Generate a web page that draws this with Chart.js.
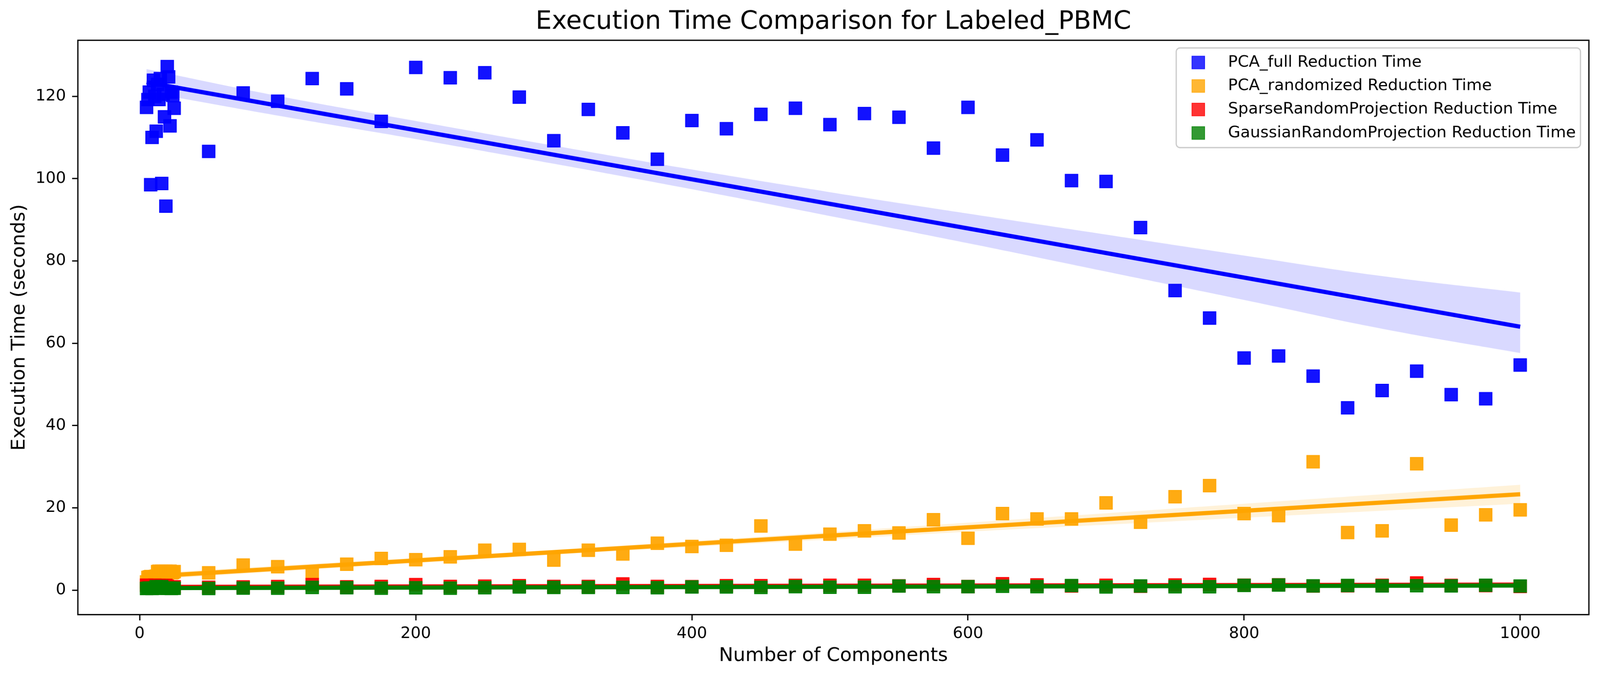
<!DOCTYPE html>
<html>
<head>
<meta charset="utf-8">
<script src="https://cdn.jsdelivr.net/npm/chart.js@4.4.1/dist/chart.umd.min.js"></script>
<style>
html,body{margin:0;padding:0;background:#ffffff;overflow:hidden;width:100%;height:100%;}
#c{display:block;width:100vw;height:calc(100vw * 1767 / 4172);}
</style>
</head>
<body>
<canvas id="c" width="4172" height="1767" style="display:block;width:100vw;height:calc(100vw * 1767 / 4172);"></canvas>
<script>
// ---------------- data ----------------
const components = [5,6,7,8,9,10,11,12,13,14,15,16,17,18,19,20,21,22,23,24,25,
  50,75,100,125,150,175,200,225,250,275,300,325,350,375,400,425,450,475,500,
  525,550,575,600,625,650,675,700,725,750,775,800,825,850,875,900,925,950,975,1000];

const pcaFullTime = [117.3,119.2,121.0,98.5,110.0,123.9,120.0,111.5,122.9,119.2,124.3,98.8,120.5,115.0,93.3,127.2,124.7,112.8,121.0,120.2,117.1,
  106.6,120.8,118.8,124.3,121.8,113.9,127.0,124.5,125.7,119.8,109.2,116.8,111.1,104.7,114.1,112.1,115.6,117.1,113.1,
  115.8,114.9,107.4,117.3,105.7,109.4,99.5,99.3,88.1,72.8,66.1,56.4,56.9,52.0,44.3,48.5,53.2,47.5,46.5,54.7];

const pcaRandTime = [2.0,3.1,3.2,3.3,3.2,3.1,3.3,3.4,4.5,4.6,4.4,4.6,4.5,4.3,4.6,4.5,4.4,4.6,4.2,4.3,4.5,
  4.2,6.1,5.7,4.3,6.3,7.7,7.4,8.1,9.7,9.9,7.3,9.7,8.8,11.4,10.6,10.9,15.6,11.2,13.6,
  14.4,13.9,17.1,12.6,18.6,17.3,17.3,21.2,16.5,22.7,25.4,18.6,18.1,31.2,14.0,14.4,30.7,15.8,18.3,19.5];

const sparseTime = [1.2,1.15,1.1,1.15,1.0,1.1,1.2,1.0,1.1,1.15,1.05,0.95,1.1,1.0,1.15,0.95,0.8,0.75,0.8,0.75,0.8,
  0.7,0.78,0.87,1.34,0.8,0.9,1.34,0.9,0.98,1.09,0.9,0.9,1.5,0.9,0.85,1.09,1.09,1.15,1.18,
  1.18,1.05,1.37,0.87,1.55,1.27,1.0,1.18,0.95,1.24,1.39,1.2,1.3,1.0,1.05,1.18,1.74,1.15,1.1,0.9];

const gaussianTime = [0.4,0.45,0.5,0.45,0.4,0.5,0.55,0.85,0.6,0.5,0.55,0.85,0.5,0.45,0.5,0.45,0.5,0.45,0.4,0.5,0.45,
  0.4,0.5,0.48,0.67,0.6,0.48,0.57,0.48,0.6,0.77,0.67,0.67,0.67,0.59,0.77,0.77,0.67,0.85,0.71,
  0.71,1.0,0.85,0.85,0.95,0.85,1.12,0.77,1.02,0.82,0.82,1.15,1.24,1.04,1.13,1.04,1.07,1.04,1.19,1.0];

// regression lines (end points) and confidence bands
const fitX = [5, 1000];
const pcaFullFit = [123.4, 64.0];
const pcaRandFit = [3.3, 23.3];
const sparseFit = [0.77, 1.33];
const gaussianFit = [0.5, 1.14];

const bandX = [5,100,200,300,400,500,600,700,800,900,1000];
const pcaFullUpper = [126.6,120.1,114.0,108.0,102.2,96.7,91.5,86.4,81.3,76.3,72.3];
const pcaFullLower = [121.0,115.3,109.6,103.6,97.4,90.9,84.3,77.4,70.5,63.5,57.6];
const pcaRandUpper = [4.1,5.9,7.8,9.8,11.9,14.1,16.4,18.7,21.0,23.3,25.6];
const pcaRandLower = [2.5,4.5,6.6,8.6,10.5,12.3,14.2,15.9,17.6,19.3,21.0];

const xTicks = [0,200,400,600,800,1000];
const yTicks = [0,20,40,60,80,100,120];

const seriesNames = ['PCA_full Reduction Time','PCA_randomized Reduction Time',
  'SparseRandomProjection Reduction Time','GaussianRandomProjection Reduction Time'];

// ---------------- styling ----------------
const FONT = "'DejaVu Sans', 'Liberation Sans', sans-serif";
const cols = {
  blue:  [0,0,255],
  orange:[255,165,0],
  red:   [255,0,0],
  green: [0,128,0]
};
const rgba = (c,a) => `rgba(${c[0]},${c[1]},${c[2]},${a})`;
const pts = (xs, ys) => xs.map((x,i) => ({x:x, y:ys[i]}));

function scatterDs(label, ys, c, order){
  return {
    label: label, data: pts(components, ys), showLine: false,
    pointStyle: 'rect', pointRadius: 23.3, pointHoverRadius: 23.3,
    pointBackgroundColor: rgba(c,0.93), pointBorderColor: rgba(c,1), pointBorderWidth: 2,
    order: order
  };
}
function lineDs(ys, c, order){
  return {
    label: '_fit', data: pts(fitX, ys), showLine: true, borderColor: rgba(c,1),
    borderWidth: 11, pointRadius: 0, fill: false, tension: 0, order: order, borderCapStyle: 'butt'
  };
}
function bandUpper(ys, order){
  return { label: '_band', data: pts(bandX, ys), showLine: true, borderWidth: 0,
    borderColor: 'rgba(0,0,0,0)', pointRadius: 0, fill: false, tension: 0.4, order: order };
}
function bandLower(ys, c, upperIndex, order){
  return { label: '_band', data: pts(bandX, ys), showLine: true, borderWidth: 0,
    borderColor: 'rgba(0,0,0,0)', pointRadius: 0, tension: 0.4,
    fill: {target: upperIndex}, backgroundColor: rgba(c,0.15), order: order };
}

const datasets = [
  scatterDs(seriesNames[0], pcaFullTime, cols.blue, 100),   // 0
  lineDs(pcaFullFit, cols.blue, 99),                         // 1
  bandUpper(pcaFullUpper, 98),                               // 2
  bandLower(pcaFullLower, cols.blue, 2, 97),                 // 3
  scatterDs(seriesNames[1], pcaRandTime, cols.orange, 90),   // 4
  lineDs(pcaRandFit, cols.orange, 89),                       // 5
  bandUpper(pcaRandUpper, 88),                               // 6
  bandLower(pcaRandLower, cols.orange, 6, 87),               // 7
  scatterDs(seriesNames[2], sparseTime, cols.red, 80),       // 8
  lineDs(sparseFit, cols.red, 79),                           // 9
  scatterDs(seriesNames[3], gaussianTime, cols.green, 70),   // 10
  lineDs(gaussianFit, cols.green, 69)                        // 11
];

// frame (all four spines)
const framePlugin = {
  id: 'frame',
  afterDatasetsDraw(chart){
    const a = chart.chartArea, ctx = chart.ctx;
    ctx.save();
    ctx.strokeStyle = '#000'; ctx.lineWidth = 3.3;
    ctx.strokeRect(a.left, a.top, a.right - a.left, a.bottom - a.top);
    ctx.restore();
  }
};

// matplotlib-like legend inside upper right
const legendPlugin = {
  id: 'mplLegend',
  afterDraw(chart){
    const ctx = chart.ctx;
    const box = {x: 3067, y: 125, w: 1054, h: 260, r: 10};
    ctx.save();
    ctx.beginPath();
    ctx.roundRect(box.x, box.y, box.w, box.h, box.r);
    ctx.fillStyle = 'rgba(255,255,255,0.8)';
    ctx.fill();
    ctx.strokeStyle = '#cccccc'; ctx.lineWidth = 3.3;
    ctx.stroke();
    const colorList = [cols.blue, cols.orange, cols.red, cols.green];
    ctx.font = `41.7px ${FONT}`;
    ctx.textBaseline = 'middle';
    ctx.textAlign = 'left';
    for (let i = 0; i < seriesNames.length; i++){
      const cy = 163 + i * 61.3;
      ctx.fillStyle = rgba(colorList[i], 0.8);
      ctx.fillRect(3108, cy - 16.5, 33, 33);
      ctx.strokeStyle = rgba(colorList[i], 0.8); ctx.lineWidth = 2;
      ctx.strokeRect(3108, cy - 16.5, 33, 33);
      ctx.fillStyle = '#000';
      ctx.fillText(seriesNames[i], 3202, cy);
    }
    ctx.restore();
  }
};

new Chart(document.getElementById('c'), {
  type: 'line',
  data: { datasets: datasets },
  options: {
    responsive: false,
    devicePixelRatio: 1,
    animation: false,
    events: [],
    layout: { padding: { left: 0, right: 29, top: 0, bottom: 0 } },
    plugins: {
      legend: { display: false },
      tooltip: { enabled: false },
      title: {
        display: true, fullSize: false,
        text: 'Execution Time Comparison for Labeled_PBMC',
        color: '#000',
        font: { family: FONT, size: 66.7, weight: 'normal', lineHeight: 1.2 },
        padding: { top: 18, bottom: 7 }
      }
    },
    scales: {
      x: {
        type: 'linear', min: -44.75, max: 1049.75,
        afterBuildTicks: (axis) => { axis.ticks = xTicks.map(v => ({value: v})); },
        afterFit: (scale) => { scale.height = 164; },
        border: { display: false },
        grid: { display: true, drawOnChartArea: false, drawTicks: true, tickLength: 15,
                tickWidth: 3.3, tickColor: '#000', color: '#000' },
        ticks: { color: '#000', padding: 10, maxRotation: 0, autoSkip: false,
                 callback: (v) => String(v),
                 font: { family: FONT, size: 41.7 } },
        title: { display: true, text: 'Number of Components', color: '#000',
                 font: { family: FONT, size: 50, lineHeight: 1.2 },
                 padding: { top: 0, bottom: 26 } }
      },
      y: {
        type: 'linear', min: -5.95, max: 133.6,
        afterBuildTicks: (axis) => { axis.ticks = yTicks.map(v => ({value: v})); },
        afterFit: (scale) => { scale.width = 203; },
        border: { display: false },
        grid: { display: true, drawOnChartArea: false, drawTicks: true, tickLength: 15,
                tickWidth: 3.3, tickColor: '#000', color: '#000' },
        ticks: { color: '#000', padding: 16, autoSkip: false,
                 callback: (v) => String(v),
                 font: { family: FONT, size: 41.7 } },
        title: { display: true, text: 'Execution Time (seconds)', color: '#000',
                 font: { family: FONT, size: 50, lineHeight: 1.2 },
                 padding: { top: 21, bottom: 0 } }
      }
    }
  },
  plugins: [framePlugin, legendPlugin]
});
</script>
</body>
</html>
